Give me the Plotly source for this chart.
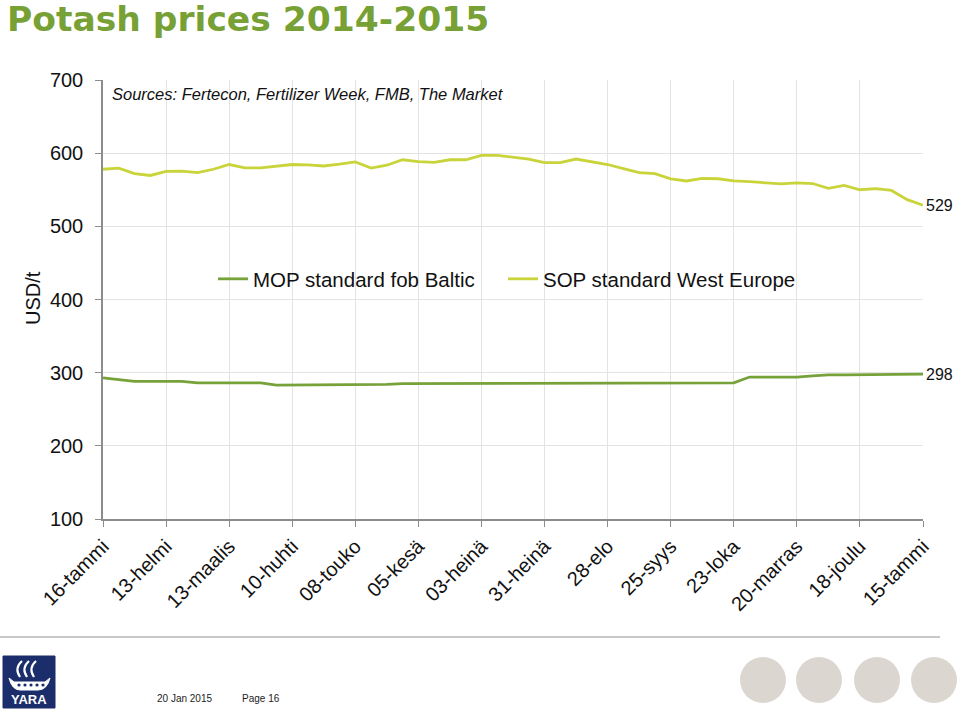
import plotly.graph_objects as go
import pandas as pd

# ---- data ----
weeks = [d.strftime("%Y-%m-%d") for d in pd.date_range("2014-01-16", periods=53, freq="7D")]
tick_labels = ["16-tammi", "13-helmi", "13-maalis", "10-huhti", "08-touko", "05-kesä", "03-heinä",
               "31-heinä", "28-elo", "25-syys", "23-loka", "20-marras", "18-joulu", "15-tammi"]
tick_weeks = weeks[::4]

mop = [293, 290, 288, 288, 288, 288, 286, 286, 286, 286, 286, 283, 283, 283, 283, 283, 283,
       284, 284, 285, 285, 285, 285, 285, 286, 286, 286, 286, 286, 286, 286, 286, 286, 286,
       286, 286, 286, 286, 286, 286, 286, 294, 294, 294, 294, 295.5, 297, 297, 297, 297, 297, 297, 298]
sop = [578, 579.5, 572, 569.5, 575, 575.5, 573.5, 578, 584.5, 580, 580, 582, 584.5, 584, 582.5,
       585, 588, 579.5, 583.5, 591, 588.5, 587.5, 591, 591, 597, 597, 594, 592, 587, 587, 592,
       588, 584.5, 579, 573.5, 572, 565, 562, 565.5, 565, 562, 561, 560, 558, 559.5, 558.5, 552,
       556, 550, 551.5, 549, 536.5, 529]

mop_name = "MOP standard fob Baltic"
sop_name = "SOP standard West Europe"
title_text = "Potash prices 2014-2015"
source_text = "Sources: Fertecon, Fertilizer Week, FMB, The Market"

MOP_C = "#77a23a"
SOP_C = "#c9d43b"
FONT = "Liberation Sans, Arial, sans-serif"

W, H = 960, 710
# plot area in page pixels: left 103, right 923, top 80, bottom 519
L, T = 103, 80
R = W - 923
B = H - 519
PW, PH = W - L - R, H - T - B


def px(x):
    return (x - L) / PW


def py(y):
    return (H - B - y) / PH


fig = go.Figure()
fig.add_trace(go.Scatter(x=weeks, y=mop, mode="lines", name=mop_name,
                         line=dict(color=MOP_C, width=2.8), legend="legend"))
fig.add_trace(go.Scatter(x=weeks, y=sop, mode="lines", name=sop_name,
                         line=dict(color=SOP_C, width=2.8), legend="legend2"))

ann = []
ann.append(dict(x=weeks[-1], y=sop[-1], xref="x", yref="y", text=str(sop[-1]), showarrow=False,
                xanchor="left", yanchor="middle", xshift=1, font=dict(size=16, color="#111", family=FONT)))
ann.append(dict(x=weeks[-1], y=mop[-1], xref="x", yref="y", text=str(mop[-1]), showarrow=False,
                xanchor="left", yanchor="middle", xshift=1, font=dict(size=16, color="#111", family=FONT)))
ann.append(dict(x=px(110), y=py(94), xref="paper", yref="paper", text="<i>" + source_text + "</i>",
                showarrow=False, xanchor="left", yanchor="middle",
                font=dict(size=16.5, color="#111", family=FONT)))
ann.append(dict(x=px(33), y=py(298), xref="paper", yref="paper", text="USD/t", textangle=-90,
                showarrow=False, xanchor="center", yanchor="middle",
                font=dict(size=20, color="#111", family=FONT)))
ann.append(dict(x=px(5), y=py(19.5), xref="paper", yref="paper", text="<b>" + title_text + "</b>",
                showarrow=False, xanchor="left", yanchor="middle",
                font=dict(size=34.5, color="#77a035", family="DejaVu Sans, sans-serif")))
ann.append(dict(x=px(155), y=py(698), xref="paper", yref="paper", text="20 Jan 2015",
                showarrow=False, xanchor="left", yanchor="middle",
                font=dict(size=10, color="#222", family=FONT)))
ann.append(dict(x=px(240), y=py(698), xref="paper", yref="paper", text="Page 16",
                showarrow=False, xanchor="left", yanchor="middle",
                font=dict(size=10, color="#222", family=FONT)))
ann.append(dict(x=px(29), y=py(699), xref="paper", yref="paper", text="<b>YARA</b>",
                showarrow=False, xanchor="center", yanchor="middle",
                font=dict(size=13, color="white", family=FONT)))

shapes = []
# footer line
shapes.append(dict(type="line", xref="paper", yref="paper", x0=px(0), x1=px(940), y0=py(637), y1=py(637),
                   line=dict(color="#c8c8c8", width=2)))
# circles
for cx in [763, 819, 877, 934]:
    shapes.append(dict(type="circle", xref="paper", yref="paper", x0=px(cx - 23), x1=px(cx + 23),
                       y0=py(680 - 23), y1=py(680 + 23), fillcolor="#dcd6d0", line=dict(width=0)))
# logo
shapes.append(dict(type="rect", xref="paper", yref="paper", x0=px(3), x1=px(55), y0=py(656), y1=py(708),
                   fillcolor="#1b2d6b", line=dict(color="#1b2d6b", width=1)))
for k in range(3):
    x0 = 22 + 7 * k
    path = "M {a},{b} Q {c},{d} {e},{f}".format(a=px(x0), b=py(661), c=px(x0 - 8), d=py(668),
                                                  e=px(x0 - 2), f=py(677))
    shapes.append(dict(type="path", xref="paper", yref="paper", path=path,
                       line=dict(color="white", width=2.2)))
hull = "M {},{} Q {},{} {},{} L {},{} Q {},{} {},{} L {},{} L {},{} Z".format(
    px(9), py(678), px(12), py(690), px(20), py(690), px(38), py(690), px(47), py(690), px(50), py(678),
    px(45), py(682), px(14), py(682))
shapes.append(dict(type="path", xref="paper", yref="paper", path=hull, fillcolor="white",
                   line=dict(color="white", width=1)))
for dx in [19, 25, 31, 37, 43]:
    shapes.append(dict(type="circle", xref="paper", yref="paper", x0=px(dx - 1.6), x1=px(dx + 1.6),
                       y0=py(685 - 1.6), y1=py(685 + 1.6), fillcolor="#1b2d6b", line=dict(width=0)))

fig.update_layout(
    width=W, height=H,
    margin=dict(l=L, r=R, t=T, b=B, pad=0),
    paper_bgcolor="white", plot_bgcolor="white",
    font=dict(family=FONT, size=20, color="#111"),
    showlegend=True,
    legend=dict(x=px(213), y=py(279), xanchor="left", yanchor="middle", orientation="h",
                bgcolor="rgba(0,0,0,0)", font=dict(size=20.5, family=FONT, color="#111"),
                itemwidth=30),
    legend2=dict(x=px(503), y=py(279), xanchor="left", yanchor="middle", orientation="h",
                 bgcolor="rgba(0,0,0,0)", font=dict(size=20.5, family=FONT, color="#111"),
                 itemwidth=30),
    annotations=ann,
    shapes=shapes,
    xaxis=dict(type="category", range=[0, len(weeks) - 1], tickmode="array",
               tickvals=tick_weeks, ticktext=tick_labels, tickangle=-45,
               showgrid=True, gridcolor="#e3e3e3", gridwidth=1,
               showline=True, linecolor="#8c8c8c", linewidth=1.5,
               ticks="outside", ticklen=6, tickcolor="#8c8c8c",
               tickfont=dict(size=20, family=FONT, color="#111"), zeroline=False),
    yaxis=dict(range=[100, 700], tickmode="array", tickvals=[100, 200, 300, 400, 500, 600, 700],
               showgrid=True, gridcolor="#e3e3e3", gridwidth=1,
               showline=True, linecolor="#8c8c8c", linewidth=1.5,
               ticks="outside", ticklen=6, tickcolor="#8c8c8c", ticklabelstandoff=8,
               tickfont=dict(size=20, family=FONT, color="#111"), zeroline=False),
)

fig.write_html("out.html", config={"displayModeBar": False},
               post_script="document.body.style.margin='0';document.body.style.overflow='hidden';")
